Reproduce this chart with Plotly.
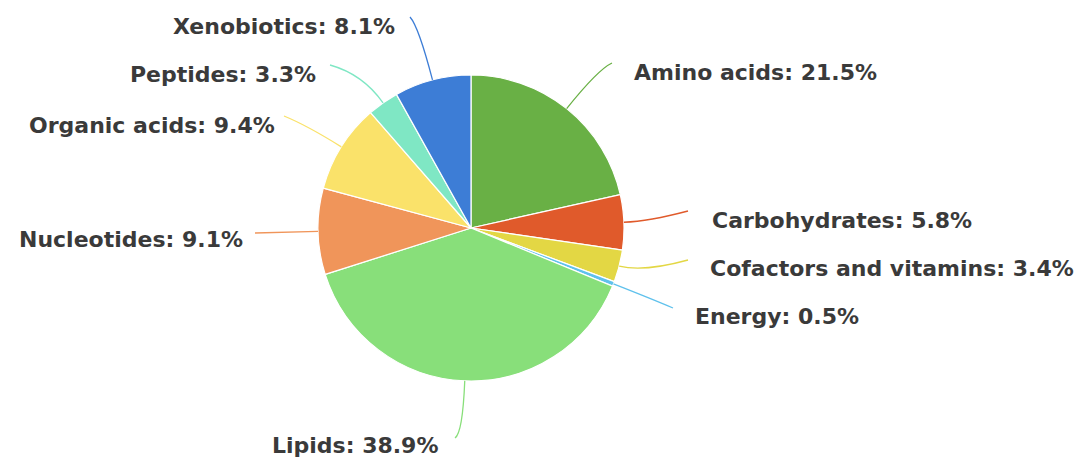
import math
import plotly.graph_objects as go

# Share of annotated metabolites per pathway class (%)
categories = [
    "Amino acids", "Carbohydrates", "Cofactors and vitamins", "Energy",
    "Lipids", "Nucleotides", "Organic acids", "Peptides", "Xenobiotics",
]
shares = [21.5, 5.8, 3.4, 0.5, 38.9, 9.1, 9.4, 3.3, 8.1]
colors = [
    "#69b045", "#e05a2b", "#e3d744", "#5fc1ec",
    "#88df7a", "#f0955a", "#fae26a", "#7fe7c4", "#3d7dd6",
]

W, H = 1090, 458
CX, CY, R = 471, 228, 153

# Leader-line routing: radial length before bending, end point of the line,
# which side the label sits on, and the label's offset from the line end.
label_layout = [
    dict(bend=50, end=(612, 63), side="right", dx=20, dy=9),
    dict(bend=25, end=(688, 211), side="right", dx=22, dy=9),
    dict(bend=25, end=(688, 260), side="right", dx=20, dy=8),
    dict(bend=40, end=(673, 308), side="right", dx=20, dy=8),
    dict(bend=52, end=(455, 438), side="left", dx=15, dy=7),
    dict(bend=20, end=(255, 233), side="left", dx=10, dy=6),
    dict(bend=40, end=(284, 116), side="left", dx=7, dy=9),
    dict(bend=35, end=(330, 65), side="left", dx=12, dy=9),
    dict(bend=55, end=(410, 17), side="left", dx=13, dy=9),
]


def px(x, y):
    """Pixel position -> paper coordinates."""
    return x / W, 1 - y / H


fig = go.Figure(
    go.Pie(
        labels=categories,
        values=shares,
        sort=False,
        direction="clockwise",
        rotation=0,
        marker=dict(colors=colors, line=dict(color="white", width=1.2)),
        textinfo="none",
        hoverinfo="label+percent",
        showlegend=False,
        domain=dict(
            x=[(CX - R) / W, (CX + R) / W],
            y=[(H - CY - R) / H, (H - CY + R) / H],
        ),
    )
)

total = sum(shares)
shapes, annotations = [], []
cum = 0.0
for name, val, col, lay in zip(categories, shares, colors, label_layout):
    mid = (cum + val / 2) / total * 2 * math.pi
    cum += val
    ux, uy = math.sin(mid), -math.cos(mid)
    sx, sy = CX + R * ux, CY + R * uy
    qx, qy = sx + lay["bend"] * ux, sy + lay["bend"] * uy
    ex, ey = lay["end"]
    p0, p1, p2 = px(sx, sy), px(qx, qy), px(ex, ey)
    shapes.append(dict(
        type="path", xref="paper", yref="paper",
        path=f"M {p0[0]},{p0[1]} Q {p1[0]},{p1[1]} {p2[0]},{p2[1]}",
        line=dict(color=col, width=1.3),
    ))
    if lay["side"] == "right":
        tx, anchor = ex + lay["dx"], "left"
    else:
        tx, anchor = ex - lay["dx"], "right"
    ax, ay = px(tx, ey + lay["dy"])
    annotations.append(dict(
        xref="paper", yref="paper", x=ax, y=ay,
        text=f"{name}: {val:.1f}%", showarrow=False,
        xanchor=anchor, yanchor="middle",
        font=dict(family="DejaVu Sans", size=22, color="#3a3a3a", weight="bold"),
    ))

fig.update_layout(
    width=W, height=H,
    margin=dict(l=0, r=0, t=0, b=0),
    paper_bgcolor="white", plot_bgcolor="white",
    shapes=shapes, annotations=annotations,
)

fig.write_html("out.html")
